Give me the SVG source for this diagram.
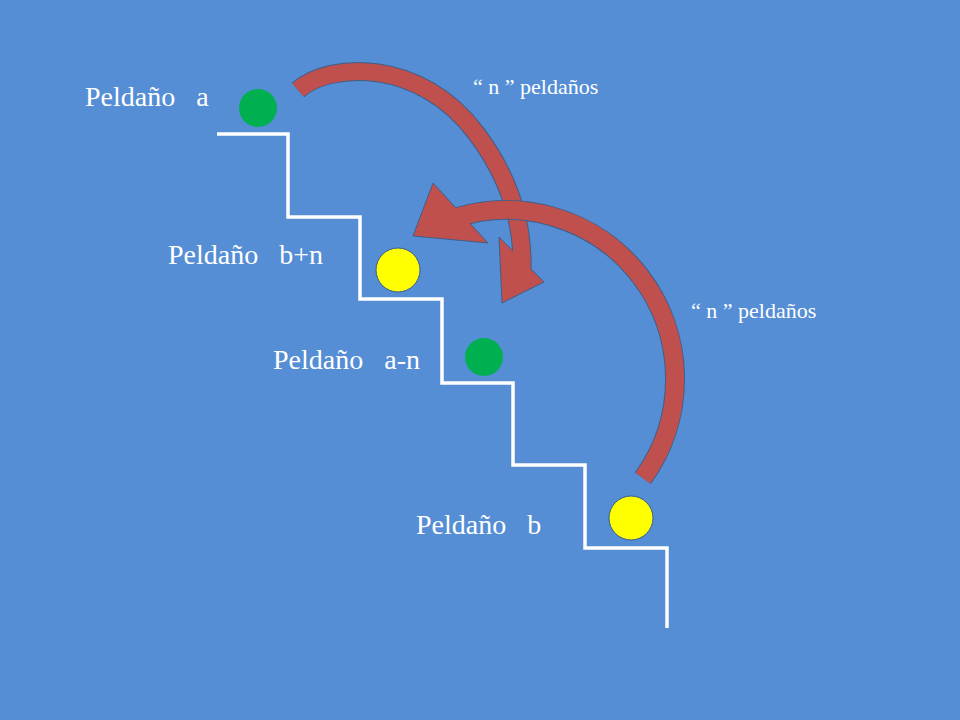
<svg xmlns="http://www.w3.org/2000/svg" width="960" height="720" viewBox="0 0 960 720">
  <style>
    .lbl { font-family: "Liberation Serif", "DejaVu Serif", serif; fill: #ffffff; white-space: pre; }
    .big { font-size: 28px; }
    .small { font-size: 22px; }
    .stair { fill: none; stroke: #ffffff; stroke-width: 3.5; stroke-linejoin: miter; }
    .green { fill: #00B050; }
    .yellow { fill: #FFFF00; stroke: #385D8A; stroke-width: 1; }
    .bandOut { fill: none; stroke: #3E5F8A; stroke-linecap: butt; }
    .bandIn { fill: none; stroke: #C0504D; stroke-linecap: butt; }
    .head { fill: #C0504D; stroke: #3E5F8A; stroke-width: 1; stroke-linejoin: miter; }
  </style>
  <rect x="0" y="0" width="960" height="720" fill="#558ED5"/>

  <g id="staircase">
    <polyline class="stair" points="217,134 288,134 288,217 360,217 360,299 442,299 442,383 513,383 513,465 585,465 585,548 667,548 667,628"/>
  </g>

  <g id="ball-a"><circle class="green" cx="258" cy="108" r="19"/></g>
  <g id="ball-bn"><circle class="yellow" cx="398" cy="270" r="22"/></g>
  <g id="ball-an"><circle class="green" cx="484" cy="357" r="19"/></g>
  <g id="ball-b"><circle class="yellow" cx="631" cy="518" r="22"/></g>

  <g id="label-a"><text class="lbl big" x="85" y="106">Peldaño   a</text></g>
  <g id="label-bn"><text class="lbl big" x="168" y="264">Peldaño   b+n</text></g>
  <g id="label-an"><text class="lbl big" x="273" y="369">Peldaño   a-n</text></g>
  <g id="label-b"><text class="lbl big" x="416" y="534">Peldaño   b</text></g>
  <g id="label-n1"><text class="lbl small" x="473" y="94">“ n ” peldaños</text></g>
  <g id="label-n2"><text class="lbl small" x="691" y="318">“ n ” peldaños</text></g>

  <g id="connectors">
    <g id="arrow-a-to-an">
      <path class="bandOut" stroke-width="19" d="M298,90 C330,62 420,58 476,133 C504,170 524,215 522,272"/>
      <polygon class="head" points="499,237 502,303 544,282"/>
      <path class="bandIn" stroke-width="17" d="M298,90 C330,62 420,58 476,133 C504,170 524,215 522,272"/>
    </g>
    <g id="arrow-b-to-bn">
      <path class="bandOut" stroke-width="20" d="M642.9,478.1 A169,169 0 0 0 445.4,221.2"/>
      <polygon class="head" points="433,183 413,236 488,243"/>
      <path class="bandIn" stroke-width="18" d="M642.9,478.1 A169,169 0 0 0 445.4,221.2"/>
    </g>
  </g>
</svg>
